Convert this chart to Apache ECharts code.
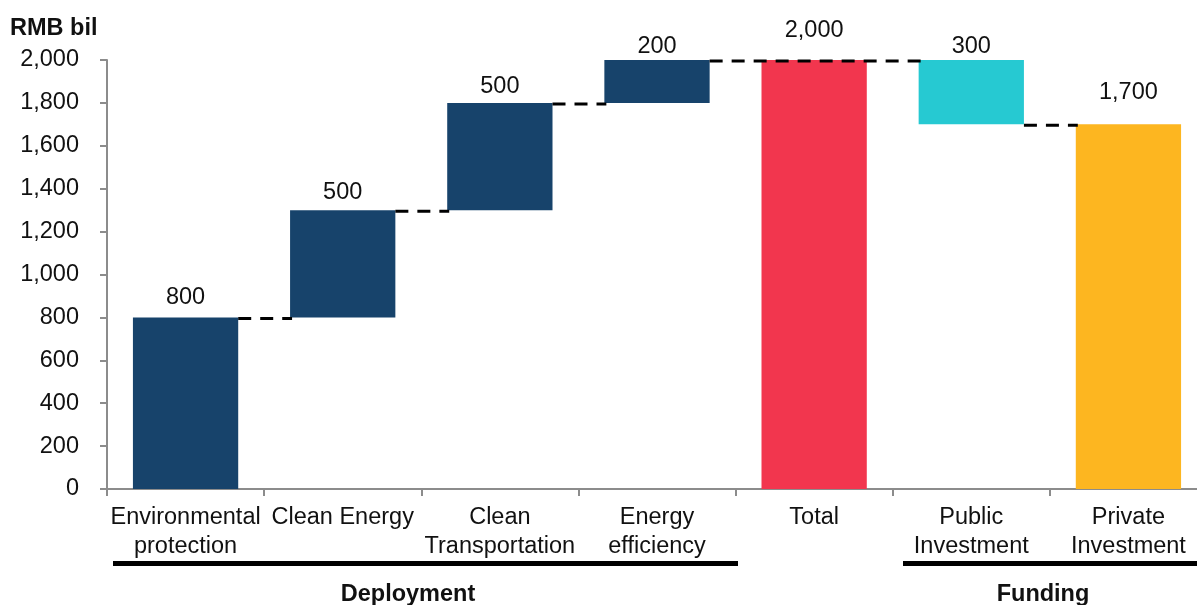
<!DOCTYPE html>
<html>
<head>
<meta charset="utf-8">
<script src="https://cdn.jsdelivr.net/npm/echarts@6/dist/echarts.min.js"></script>
<style>
  html, body { margin: 0; padding: 0; background: #fff; }
  #chart { width: 1197px; height: 605px; }
</style>
</head>
<body>
<div id="chart"></div>
<script>
// Waterfall: deployment areas stack up to the total, funding splits it.
const categories = ['Environmental\nprotection', 'Clean Energy', 'Clean\nTransportation', 'Energy\nefficiency', 'Total', 'Public\nInvestment', 'Private\nInvestment'];
const baseValues = [0, 800, 1300, 1800, 0, 1700, 0];
const deltaValues = [800, 500, 500, 200, 2000, 300, 1700];
const barColors = ['#17436B', '#17436B', '#17436B', '#17436B', '#F2364E', '#26C9D2', '#FDB620'];
// gap between each value label and the top of its bar
const labelGaps = [8, 6, 4, 1, 17, 1, 20];
// dashed connectors: [from category, to category, level]
const connectors = [[0, 1, 800], [1, 2, 1300], [2, 3, 1800], [3, 5, 2000], [5, 6, 1700]];
const yTicks = { min: 0, max: 2000, interval: 200 };

const FONT = '"Liberation Sans", Arial, sans-serif';
const FS = 23.5;
const BAR_RATIO = 0.67;
const fmt = v => v.toLocaleString('en-US');

const chart = echarts.init(document.getElementById('chart'));

const option = {
  animation: false,
  textStyle: { fontFamily: FONT },
  grid: { left: 107, top: 60, bottom: 116, width: 1100, containLabel: false, outerBoundsMode: 'none' },
  xAxis: {
    type: 'category',
    data: categories,
    boundaryGap: true,
    axisLine: { lineStyle: { color: '#8c8c8c', width: 2 } },
    axisTick: { show: true, length: 7, lineStyle: { color: '#8c8c8c', width: 2 } },
    axisLabel: { color: '#111', fontSize: FS, lineHeight: 29, margin: 14, interval: 0, fontFamily: FONT }
  },
  yAxis: {
    type: 'value',
    min: yTicks.min, max: yTicks.max, interval: yTicks.interval,
    splitLine: { show: false },
    axisLine: { show: true, lineStyle: { color: '#8c8c8c', width: 2 } },
    axisTick: { show: true, length: 7, lineStyle: { color: '#8c8c8c', width: 2 } },
    axisLabel: { color: '#111', fontSize: FS, margin: 28, formatter: v => fmt(v), fontFamily: FONT }
  },
  series: [
    {
      type: 'bar', stack: 'w', barWidth: (BAR_RATIO * 100) + '%',
      itemStyle: { color: 'transparent' },
      data: baseValues, silent: true
    },
    {
      type: 'bar', stack: 'w', barWidth: (BAR_RATIO * 100) + '%',
      data: deltaValues.map((v, i) => ({
        value: v,
        itemStyle: { color: barColors[i] },
        label: { show: true, position: 'top', distance: labelGaps[i], formatter: fmt(v), color: '#111', fontSize: FS, fontFamily: FONT }
      }))
    },
    {
      type: 'custom',
      z: 5,
      encode: { x: 0, y: 2 },
      data: connectors,
      renderItem: (params, api) => {
        const lvl = api.value(2);
        const pa = api.coord([api.value(0), lvl]);
        const pb = api.coord([api.value(1), lvl]);
        const half = api.size([1, 0])[0] * BAR_RATIO / 2;
        return {
          type: 'line',
          shape: { x1: pa[0] + half, y1: pa[1] + 1, x2: pb[0] - half + 2, y2: pb[1] + 1 },
          style: { stroke: '#000', lineWidth: 3, lineDash: [13, 9] }
        };
      }
    }
  ],
  graphic: [
    { type: 'text', left: 10, top: 17, style: { text: 'RMB bil', font: 'bold 23.5px ' + FONT, fill: '#111' } },
    { type: 'rect', shape: { x: 113, y: 561, width: 625, height: 5 }, style: { fill: '#000' } },
    { type: 'rect', shape: { x: 903, y: 561, width: 300, height: 5 }, style: { fill: '#000' } },
    { type: 'text', x: 408, y: 595, style: { text: 'Deployment', font: 'bold 23.5px ' + FONT, fill: '#111', textAlign: 'center', textVerticalAlign: 'middle' } },
    { type: 'text', x: 1043, y: 595, style: { text: 'Funding', font: 'bold 23.5px ' + FONT, fill: '#111', textAlign: 'center', textVerticalAlign: 'middle' } }
  ]
};

chart.setOption(option);
</script>
</body>
</html>
